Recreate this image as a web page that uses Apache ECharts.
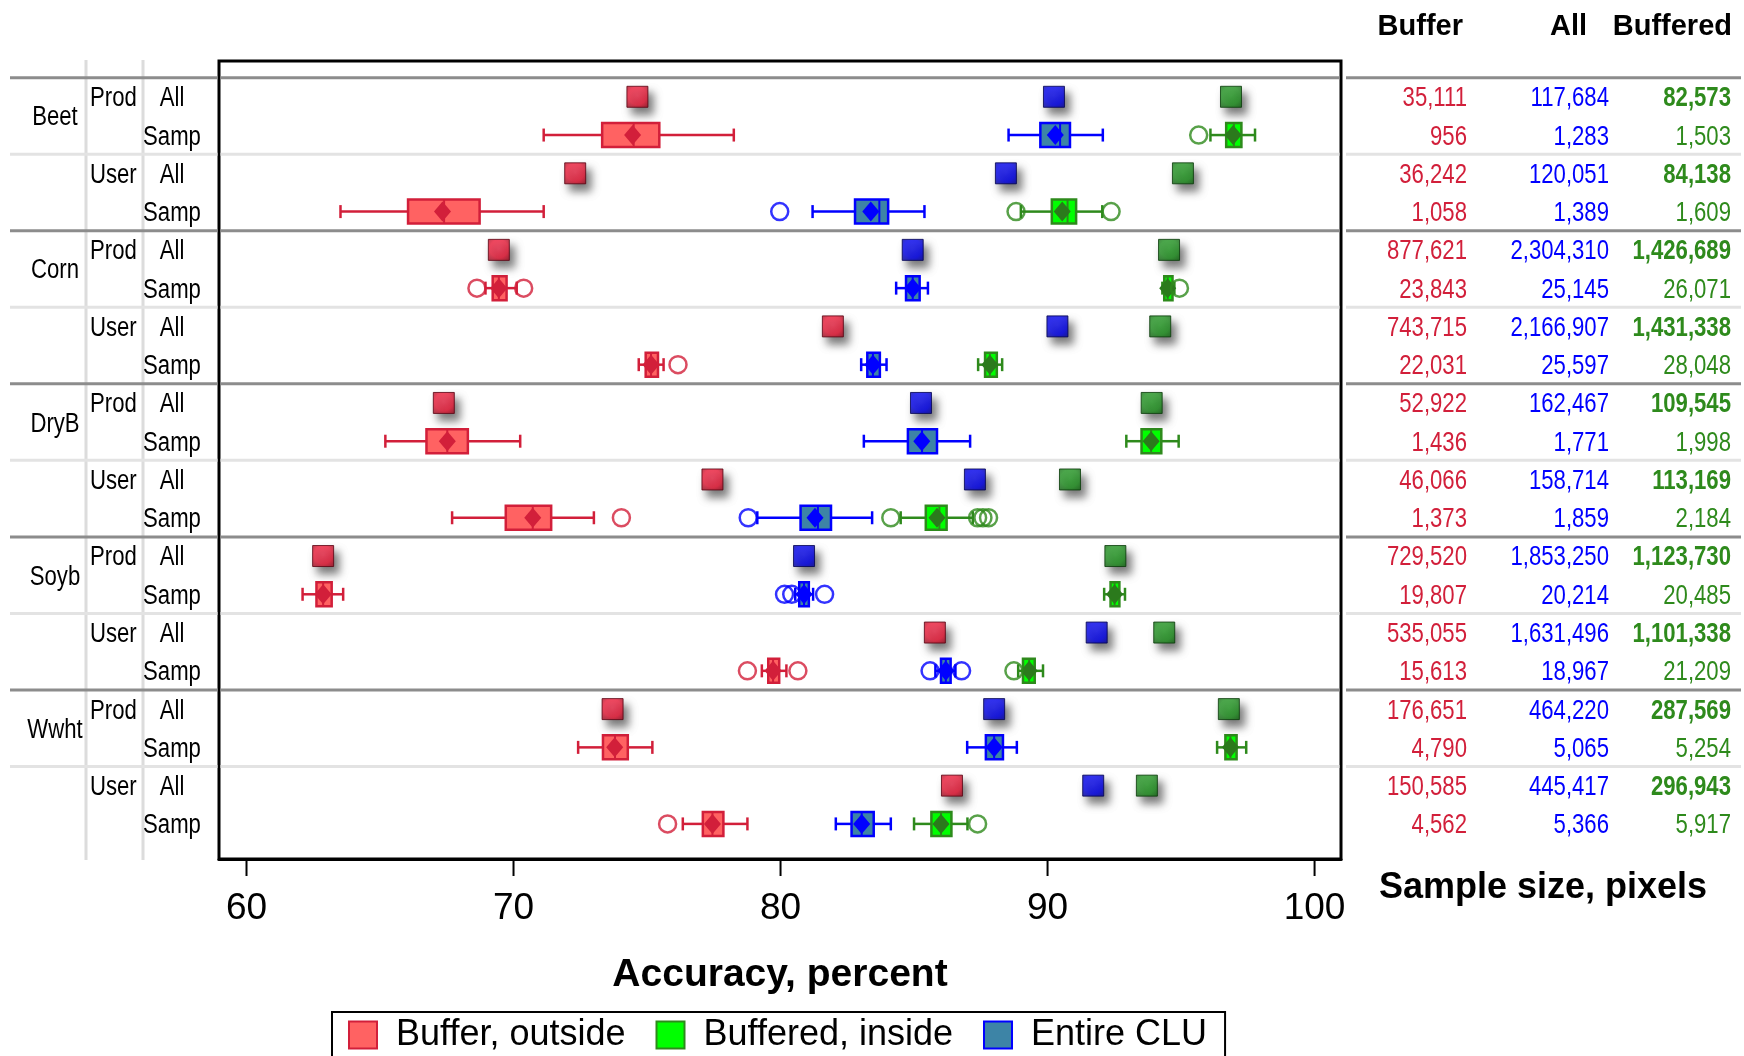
<!DOCTYPE html>
<html><head><meta charset="utf-8">
<script src="https://cdn.jsdelivr.net/npm/echarts@6/dist/echarts.min.js"></script>
<style>html,body{margin:0;padding:0;background:#fff}#c{width:1744px;height:1056px}</style>
</head><body><div id="c"></div>
<script>
// ---------- data ----------
const crops = ['Beet', 'Corn', 'DryB', 'Soyb', 'Wwht'];
const roles = ['Prod', 'User'];
const kinds = ['All', 'Samp'];
const xTicks = [60, 70, 80, 90, 100];
const legendNames = ['Buffer, outside', 'Buffered, inside', 'Entire CLU'];
const tableHeaders = ['Buffer', 'All', 'Buffered'];

// "All" accuracy, one per crop x role group (Beet Prod, Beet User, Corn Prod, ...)
const allBuffer   = [74.64, 72.31, 69.45, 81.96, 67.39, 77.45, 62.87, 85.78, 73.71, 86.42];
const allEntire   = [90.24, 88.44, 84.95, 90.37, 85.26, 87.28, 80.88, 91.84, 88.00, 91.71];
const allBuffered = [96.87, 95.07, 94.55, 94.22, 93.90, 90.84, 92.54, 94.37, 96.79, 93.72];

// "Samp" box stats [whisker low, Q1, median, Q3, whisker high]
const sampBuffer = [
  [71.13, 73.32, 74.50, 75.46, 78.25], [63.52, 66.05, 67.40, 68.73, 71.13],
  [68.95, 69.22, 69.45, 69.74, 70.12], [74.69, 74.95, 75.15, 75.41, 75.62],
  [65.20, 66.74, 67.52, 68.29, 70.25], [67.70, 69.71, 70.72, 71.41, 73.01],
  [62.10, 62.62, 62.87, 63.19, 63.62], [79.30, 79.54, 79.72, 79.95, 80.22],
  [72.42, 73.35, 73.80, 74.28, 75.20], [76.34, 77.09, 77.45, 77.86, 78.76]
];
const meanBuffer = [74.46, 67.34, 69.45, 75.15, 67.52, 70.72, 62.87, 79.72, 73.79, 77.45];
const outBuffer = [[], [], [68.63, 70.38], [76.16], [], [74.04], [], [78.76, 80.65], [], [75.77]];

const sampEntire = [
  [88.54, 89.73, 90.47, 90.84, 92.07], [81.20, 82.79, 83.70, 84.03, 85.39],
  [84.33, 84.70, 84.95, 85.21, 85.52], [83.02, 83.25, 83.46, 83.72, 83.97],
  [83.12, 84.77, 85.30, 85.86, 87.10], [79.13, 80.75, 81.40, 81.89, 83.43],
  [80.55, 80.70, 80.88, 81.06, 81.22], [85.80, 86.01, 86.19, 86.37, 86.55],
  [86.99, 87.69, 88.00, 88.33, 88.85], [82.07, 82.66, 83.04, 83.49, 84.13]
];
const meanEntire = [90.29, 83.38, 84.95, 83.46, 85.29, 81.29, 80.88, 86.19, 88.00, 83.04];
const outEntire = [[], [79.97], [], [], [], [78.79], [80.15, 80.42, 81.65], [85.60, 86.78], [], []];

const sampBuffered = [
  [96.10, 96.69, 96.98, 97.26, 97.77], [89.00, 90.16, 90.75, 91.07, 92.05],
  [94.30, 94.37, 94.50, 94.68, 94.75], [87.40, 87.66, 87.84, 88.10, 88.30],
  [92.95, 93.52, 93.88, 94.26, 94.91], [84.50, 85.44, 85.95, 86.22, 87.20],
  [92.12, 92.36, 92.51, 92.69, 92.90], [88.90, 89.08, 89.31, 89.52, 89.83],
  [96.35, 96.66, 96.85, 97.08, 97.44], [85.00, 85.65, 86.01, 86.40, 87.00]
];
const meanBuffered = [96.95, 90.55, 94.50, 87.84, 93.88, 85.86, 92.51, 89.31, 96.85, 86.01];
const outBuffered = [[95.66], [88.82, 92.38], [94.94], [], [], [84.13, 87.38, 87.58, 87.79], [], [88.74], [], [87.38]];

// sample sizes, one per row (crop, role, All/Samp)
const nBuffer = [35111, 956, 36242, 1058, 877621, 23843, 743715, 22031, 52922, 1436, 46066, 1373, 729520, 19807, 535055, 15613, 176651, 4790, 150585, 4562];
const nAll = [117684, 1283, 120051, 1389, 2304310, 25145, 2166907, 25597, 162467, 1771, 158714, 1859, 1853250, 20214, 1631496, 18967, 464220, 5065, 445417, 5366];
const nBuffered = [82573, 1503, 84138, 1609, 1426689, 26071, 1431338, 28048, 109545, 1998, 113169, 2184, 1123730, 20485, 1101338, 21209, 287569, 5254, 296943, 5917];

// ---------- style ----------
const RED = '#d21f3a', BLUE = '#0000ff', GREEN = '#2e8a1c';
const SANS = "'Liberation Sans', Arial, sans-serif";
const NARROW_SCALE = 0.82;
const GL = 219, GR = 1341, GT = 61, GB = 859;
const TXT_DY = 2;
const Y_MIN = -0.935, Y_MAX = 19.917;

const nRows = crops.length * roles.length * kinds.length;
const rowIdx = Array.from({length: nRows}, (_, i) => i);
const groupLines = crops.map((_, c) => c * 4 - 0.5);
const roleLines = crops.map((_, c) => c * 4 + 1.5);

function boxData(stats, means) {
  return stats.map((s, g) => [s[0], s[1], s[2], s[3], s[4], means[g], g * 2 + 1]);
}
function outData(outs) {
  const d = [];
  outs.forEach((arr, g) => arr.forEach(v => d.push([v, g * 2 + 1])));
  return d;
}
function allData(vals) { return vals.map((v, g) => [v, g * 2]); }

function boxRender(stroke, fill, meanFill) {
  return function (params, api) {
    const row = api.value(6);
    const y = api.coord([60, row])[1];
    const px = v => api.coord([v, row])[0];
    const xl = px(api.value(0)), x1 = px(api.value(1)), xm = px(api.value(2)),
          x3 = px(api.value(3)), xh = px(api.value(4)), xa = px(api.value(5));
    const h = 12, ch = 6.5, lw = 2.5;
    const ls = {stroke: stroke, lineWidth: lw};
    return {type: 'group', children: [
      {type: 'line', shape: {x1: xl, y1: y, x2: x1, y2: y}, style: ls},
      {type: 'line', shape: {x1: x3, y1: y, x2: xh, y2: y}, style: ls},
      {type: 'line', shape: {x1: xl, y1: y - ch, x2: xl, y2: y + ch}, style: ls},
      {type: 'line', shape: {x1: xh, y1: y - ch, x2: xh, y2: y + ch}, style: ls},
      {type: 'rect', shape: {x: x1, y: y - h, width: x3 - x1, height: 2 * h}, style: {fill: fill, stroke: stroke, lineWidth: lw}},
      {type: 'line', shape: {x1: xm, y1: y - h, x2: xm, y2: y + h}, style: {stroke: stroke, lineWidth: 2}},
      {type: 'polygon', shape: {points: [[xa - 8.5, y], [xa, y - 10], [xa + 8.5, y], [xa, y + 10]]}, style: {fill: meanFill}}
    ]};
  };
}

function sq(c0, c1, c2, border) {
  return {
    color: {type: 'radial', x: 0.5, y: 0.45, r: 0.75, colorStops: [
      {offset: 0, color: c0}, {offset: 0.55, color: c1}, {offset: 1, color: c2}]},
    borderColor: border, borderWidth: 1,
    shadowBlur: 9, shadowColor: 'rgba(0,0,0,0.65)', shadowOffsetX: 5, shadowOffsetY: 7
  };
}

const fmt = n => n.toLocaleString('en-US');

const chart = echarts.init(document.getElementById('c'), null, {renderer: 'canvas'});
chart.setOption({
  animation: false,
  backgroundColor: '#fff',
  grid: {left: GL, right: 1744 - GR, top: GT, bottom: 1056 - GB, show: true, borderColor: '#000', borderWidth: 3, backgroundColor: 'transparent'},
  xAxis: {
    type: 'value', min: 58.97, max: 100.99, position: 'bottom',
    axisLine: {show: true, onZero: false, lineStyle: {color: '#000', width: 3}},
    splitLine: {show: false},
    axisTick: {show: false},
    axisLabel: {customValues: xTicks, fontSize: 37, color: '#000', fontFamily: SANS, margin: 31}
  },
  yAxis: {type: 'value', inverse: true, min: Y_MIN, max: Y_MAX, show: false},
  legend: {
    left: 332, top: 1012,
    data: [
      {name: legendNames[0], itemStyle: {color: '#ff6262', borderColor: RED, borderWidth: 2}},
      {name: legendNames[1], itemStyle: {color: '#00ff00', borderColor: GREEN, borderWidth: 2}},
      {name: legendNames[2], itemStyle: {color: '#3d84a6', borderColor: BLUE, borderWidth: 2}}
    ],
    icon: 'rect', itemWidth: 28, itemHeight: 27, itemGap: 30,
    padding: [5, 18, 20, 16],
    borderColor: '#000', borderWidth: 2,
    selectedMode: false,
    textStyle: {fontSize: 36, fontFamily: SANS, color: '#000', padding: [0, 0, 0, 14]}
  },
  graphic: [
    {type: 'line', shape: {x1: 86, y1: 60, x2: 86, y2: 860}, style: {stroke: '#dcdcdc', lineWidth: 3}, z: 0},
    {type: 'line', shape: {x1: 143, y1: 60, x2: 143, y2: 860}, style: {stroke: '#dcdcdc', lineWidth: 3}, z: 0},
    {type: 'text', x: 780, y: 975, style: {text: 'Accuracy, percent', font: 'bold 39px ' + SANS, fill: '#000', align: 'center', verticalAlign: 'middle'}},
    {type: 'text', x: 1543, y: 888, style: {text: 'Sample size, pixels', font: 'bold 36px ' + SANS, fill: '#000', align: 'center', verticalAlign: 'middle'}},
    {type: 'text', x: 1463, y: 27, style: {text: tableHeaders[0], font: 'bold 29px ' + SANS, fill: '#000', align: 'right', verticalAlign: 'middle'}},
    {type: 'text', x: 1587, y: 27, style: {text: tableHeaders[1], font: 'bold 29px ' + SANS, fill: '#000', align: 'right', verticalAlign: 'middle'}},
    {type: 'text', x: 1732, y: 27, style: {text: tableHeaders[2], font: 'bold 29px ' + SANS, fill: '#000', align: 'right', verticalAlign: 'middle'}}
  ],
  series: [
    { // x-axis tick marks, positioned by the x scale
      type: 'custom', name: 'ticks', clip: false, silent: true, z: 6,
      data: xTicks.map(v => [v, Y_MAX]),
      renderItem: function (params, api) {
        const p = api.coord([api.value(0), api.value(1)]);
        return {type: 'line', shape: {x1: p[0], y1: p[1] + 1, x2: p[0], y2: p[1] + 17}, style: {stroke: '#000', lineWidth: 2}};
      }
    },
    { // separators
      type: 'custom', name: 'sep', clip: false, silent: true, z: 1,
      data: groupLines.map(r => [60, r, 1]).concat(roleLines.map(r => [60, r, 0])),
      renderItem: function (params, api) {
        const y = api.coord([60, api.value(1)])[1];
        const thick = api.value(2) === 1;
        const st = {stroke: thick ? '#8c8c8c' : '#e3e3e3', lineWidth: 3};
        return {type: 'group', children: [
          {type: 'line', shape: {x1: 10, y1: y, x2: GL - 1.5, y2: y}, style: st},
          {type: 'line', shape: {x1: GL + 1.5, y1: y, x2: GR - 1.5, y2: y}, style: st},
          {type: 'line', shape: {x1: GR + 5, y1: y, x2: 1741, y2: y}, style: st}
        ]};
      }
    },
    { // row labels + table
      type: 'custom', name: 'labels', clip: false, silent: true, z: 5,
      data: rowIdx.map(r => [60, r]),
      renderItem: function (params, api) {
        const row = api.value(1);
        const y = api.coord([60, row])[1] + TXT_DY;
        const c = Math.floor(row / 4), r = Math.floor(row / 2) % 2, k = row % 2;
        const ch = [];
        const t = (x, yy, text, align, fill, weight) => ({type: 'text', x: x, y: yy, scaleX: NARROW_SCALE, style: {
          text: text, fill: fill, align: align, verticalAlign: 'middle',
          font: (weight || 'normal') + ' 27px ' + SANS}});
        ch.push(t(172, y, kinds[k], 'center', '#000'));
        if (k === 0) ch.push(t(90, y, roles[r], 'left', '#000'));
        if (k === 0 && r === 0) ch.push(t(55, api.coord([60, row + 0.5])[1] + TXT_DY, crops[c], 'center', '#000'));
        ch.push(t(1467, y, fmt(nBuffer[row]), 'right', RED));
        ch.push(t(1609, y, fmt(nAll[row]), 'right', BLUE));
        ch.push(t(1731, y, fmt(nBuffered[row]), 'right', GREEN, k === 0 ? 'bold' : 'normal'));
        return {type: 'group', children: ch};
      }
    },
    {type: 'custom', name: legendNames[0], z: 2, data: boxData(sampBuffer, meanBuffer), encode: {x: [0, 4], y: 6}, renderItem: boxRender(RED, '#ff6262', RED)},
    {type: 'custom', name: legendNames[1], z: 2, data: boxData(sampBuffered, meanBuffered), encode: {x: [0, 4], y: 6}, renderItem: boxRender(GREEN, '#00ff00', '#2b7a1c')},
    {type: 'custom', name: legendNames[2], z: 2, data: boxData(sampEntire, meanEntire), encode: {x: [0, 4], y: 6}, renderItem: boxRender(BLUE, '#3d84a6', BLUE)},
    {type: 'scatter', name: 'oBuffer', z: 3, symbol: 'circle', symbolSize: 17, data: outData(outBuffer), itemStyle: {color: 'rgba(0,0,0,0)', borderColor: RED, borderWidth: 2.5}},
    {type: 'scatter', name: 'oBuffered', z: 3, symbol: 'circle', symbolSize: 17, data: outData(outBuffered), itemStyle: {color: 'rgba(0,0,0,0)', borderColor: GREEN, borderWidth: 2.5}},
    {type: 'scatter', name: 'oEntire', z: 3, symbol: 'circle', symbolSize: 17, data: outData(outEntire), itemStyle: {color: 'rgba(0,0,0,0)', borderColor: BLUE, borderWidth: 2.5}},
    {type: 'scatter', name: 'aBuffer', z: 4, symbol: 'rect', symbolSize: 21, data: allData(allBuffer), itemStyle: sq('#ff3050', '#f01c3a', '#8a0a1c', '#5a0010')},
    {type: 'scatter', name: 'aEntire', z: 4, symbol: 'rect', symbolSize: 21, data: allData(allEntire), itemStyle: sq('#1010ff', '#0000f0', '#00008a', '#000050')},
    {type: 'scatter', name: 'aBuffered', z: 4, symbol: 'rect', symbolSize: 21, data: allData(allBuffered), itemStyle: sq('#2eaa2e', '#229522', '#0e5a0e', '#083a08')}
  ]
});
</script></body></html>
